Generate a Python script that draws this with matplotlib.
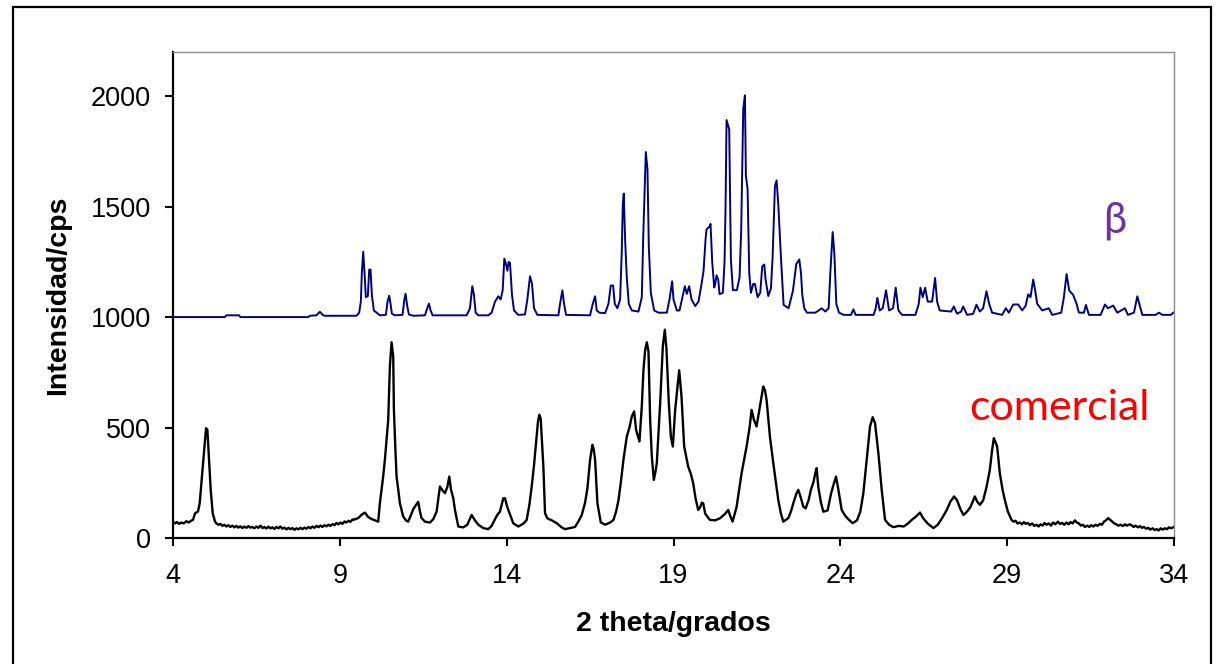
import matplotlib as mpl
mpl.use('Agg')
import matplotlib.pyplot as plt
from matplotlib.patches import Rectangle

# beta form, raw counts (drawn shifted up by beta_offset)
beta_offset = 1000
beta_x = [4.00, 5.55, 5.60, 5.98, 6.02, 8.05, 8.10, 8.30, 8.40, 8.50, 8.55, 9.50, 9.58, 9.63,
          9.66, 9.70, 9.74, 9.78, 9.84, 9.88, 9.92, 9.96, 10.02, 10.10, 10.20, 10.38, 10.43,
          10.48, 10.52, 10.56, 10.65, 10.88, 10.93, 10.97, 11.02, 11.07, 11.20, 11.55, 11.62,
          11.67, 11.72, 11.78, 12.80, 12.90, 12.97, 13.02, 13.07, 13.15, 13.45, 13.55, 13.65,
          13.75, 13.82, 13.88, 13.93, 13.98, 14.02, 14.06, 14.10, 14.16, 14.22, 14.35, 14.55,
          14.62, 14.70, 14.76, 14.82, 14.92, 15.55, 15.60, 15.67, 15.72, 15.78, 16.50, 16.58,
          16.65, 16.70, 16.78, 16.95, 17.05, 17.12, 17.19, 17.24, 17.32, 17.40, 17.45, 17.48,
          17.51, 17.55, 17.60, 17.66, 17.75, 17.95, 18.05, 18.09, 18.13, 18.17, 18.22, 18.26,
          18.32, 18.42, 18.55, 18.80, 18.88, 18.96, 19.00, 19.10, 19.18, 19.28, 19.34, 19.40,
          19.47, 19.54, 19.65, 19.75, 19.84, 19.90, 19.96, 19.99, 20.08, 20.11, 20.16, 20.22,
          20.25, 20.29, 20.34, 20.38, 20.48, 20.53, 20.56, 20.59, 20.67, 20.72, 20.78, 20.90,
          20.98, 21.03, 21.09, 21.14, 21.17, 21.22, 21.27, 21.32, 21.39, 21.44, 21.52, 21.60,
          21.66, 21.72, 21.76, 21.84, 21.92, 21.97, 22.04, 22.09, 22.14, 22.22, 22.30, 22.45,
          22.58, 22.68, 22.77, 22.82, 22.86, 22.92, 23.00, 23.25, 23.35, 23.44, 23.55, 23.65,
          23.70, 23.77, 23.82, 23.88, 23.96, 24.10, 24.32, 24.39, 24.46, 25.00, 25.06, 25.11,
          25.18, 25.27, 25.37, 25.46, 25.58, 25.66, 25.74, 25.85, 26.25, 26.35, 26.40, 26.47,
          26.54, 26.62, 26.75, 26.84, 26.90, 26.98, 27.32, 27.40, 27.50, 27.62, 27.68, 27.80,
          27.98, 28.08, 28.18, 28.28, 28.38, 28.46, 28.55, 28.70, 28.85, 28.96, 29.05, 29.18,
          29.33, 29.45, 29.55, 29.63, 29.70, 29.78, 29.84, 29.90, 30.05, 30.25, 30.35, 30.62,
          30.70, 30.78, 30.86, 30.98, 31.08, 31.15, 31.30, 31.36, 31.45, 31.80, 31.93, 32.02,
          32.18, 32.30, 32.53, 32.62, 32.80, 32.90, 32.98, 33.05, 33.45, 33.55, 33.65, 33.90,
          34.00]
beta_y = [0, 0, 8, 8, 0, 0, 6, 8, 24, 8, 6, 6, 20, 70,
          200, 296, 200, 90, 95, 215, 215, 100, 30, 20, 8, 10, 70,
          97, 60, 15, 8, 10, 75, 106, 50, 12, 6, 8, 40,
          61, 30, 8, 8, 40, 140, 100, 20, 8, 8, 20, 70,
          94, 80, 120, 265, 240, 210, 250, 245, 100, 30, 10, 12,
          80, 185, 150, 40, 10, 8, 60, 121, 60, 10, 8, 60,
          94, 30, 20, 18, 60, 143, 143, 60, 40, 80, 300, 509,
          559, 350, 180, 60, 30, 25, 90, 350, 550, 747, 669, 321,
          111, 30, 20, 20, 80, 162, 80, 30, 30, 100, 140, 105,
          140, 80, 50, 70, 150, 208, 350, 397, 410, 422, 250, 134,
          150, 189, 170, 104, 110, 250, 500, 892, 850, 260, 122, 122,
          180, 400, 941, 1004, 640, 580, 200, 110, 150, 150, 90, 110,
          230, 238, 170, 95, 130, 270, 593, 619, 511, 270, 55, 40,
          120, 240, 261, 200, 100, 40, 20, 20, 30, 40, 25, 40,
          200, 385, 290, 60, 20, 10, 10, 35, 10, 10, 40, 87,
          30, 40, 121, 30, 40, 133, 30, 10, 10, 60, 133, 90,
          133, 70, 70, 177, 70, 30, 25, 48, 15, 25, 48, 10,
          15, 56, 25, 40, 117, 60, 20, 15, 10, 40, 20, 57,
          57, 30, 50, 103, 90, 170, 120, 60, 30, 40, 10, 20,
          90, 195, 120, 100, 60, 20, 20, 55, 10, 10, 57, 40,
          52, 20, 40, 10, 20, 94, 50, 10, 10, 20, 10, 10,
          22]

# commercial sample, in four stretches of the scan
com_x_head = [4.00, 4.06, 4.12, 4.18, 4.25, 4.32, 4.40, 4.47, 4.54, 4.60, 4.66, 4.75, 4.80,
              4.86, 4.93, 4.99, 5.03, 5.07, 5.13, 5.19, 5.26]
com_y_head = [74, 66, 72, 64, 70, 66, 76, 70, 78, 82, 112, 120, 157,
              263, 384, 497, 490, 384, 218, 112, 74]

com_x_flat = [5.30, 5.36, 5.42, 5.48, 5.54, 5.60, 5.66, 5.72, 5.78, 5.84, 5.90, 5.96, 6.02,
              6.08, 6.14, 6.20, 6.26, 6.32, 6.38, 6.44, 6.50, 6.56, 6.62, 6.68, 6.74, 6.80,
              6.86, 6.92, 6.98, 7.04, 7.10, 7.16, 7.22, 7.28, 7.34, 7.40, 7.46, 7.52, 7.58,
              7.64, 7.70, 7.76, 7.82, 7.88, 7.94, 8.00, 8.06, 8.12, 8.18, 8.24, 8.30, 8.36,
              8.42, 8.48, 8.54, 8.60, 8.66, 8.72, 8.78, 8.84, 8.90, 8.96, 9.02, 9.08, 9.14,
              9.20, 9.26, 9.32, 9.38]
com_y_flat = [66, 60, 64, 55, 60, 52, 58, 50, 56, 48, 55, 47, 53,
              45, 52, 46, 54, 47, 50, 44, 52, 46, 56, 45, 50, 43,
              51, 44, 48, 41, 50, 44, 52, 42, 47, 39, 46, 40, 45,
              37, 44, 39, 46, 40, 47, 42, 50, 44, 52, 46, 55, 49,
              56, 50, 58, 53, 60, 55, 63, 58, 68, 62, 70, 64, 75,
              70, 78, 73, 84]

com_x_main = [9.40, 9.55, 9.65, 9.75, 9.85, 9.95, 10.05, 10.15, 10.20, 10.30, 10.35, 10.45,
              10.50, 10.55, 10.60, 10.62, 10.66, 10.70, 10.75, 10.80, 10.90, 10.98, 11.05,
              11.12, 11.20, 11.25, 11.35, 11.40, 11.45, 11.55, 11.70, 11.80, 11.90, 12.00,
              12.08, 12.15, 12.22, 12.28, 12.33, 12.40, 12.45, 12.55, 12.70, 12.82, 12.95,
              13.05, 13.15, 13.30, 13.45, 13.55, 13.70, 13.80, 13.90, 13.95, 14.00, 14.05,
              14.20, 14.35, 14.50, 14.60, 14.68, 14.75, 14.82, 14.88, 14.94, 14.98, 15.02,
              15.06, 15.10, 15.15, 15.22, 15.35, 15.50, 15.65, 15.75, 15.90, 16.05, 16.15,
              16.25, 16.35, 16.42, 16.50, 16.57, 16.61, 16.65, 16.72, 16.82, 16.95, 17.10,
              17.20, 17.28, 17.35, 17.42, 17.50, 17.60, 17.68, 17.75, 17.82, 17.88, 17.98,
              18.05, 18.10, 18.15, 18.20, 18.25, 18.30, 18.35, 18.41, 18.46, 18.50, 18.60,
              18.68, 18.74, 18.79, 18.86, 18.92, 18.98, 19.05, 19.12, 19.17, 19.24, 19.32,
              19.44, 19.52, 19.59, 19.66, 19.74, 19.80, 19.85, 19.89, 19.95, 20.09, 20.25,
              20.40, 20.55, 20.64, 20.70, 20.77, 20.89, 21.04, 21.19, 21.28, 21.34, 21.41,
              21.49, 21.55, 21.59, 21.69, 21.74, 21.79, 21.89, 21.99, 22.07, 22.14, 22.22,
              22.29, 22.44, 22.52, 22.59, 22.68, 22.74, 22.82, 22.89, 22.96, 23.05, 23.12,
              23.19, 23.26, 23.29, 23.34, 23.42, 23.49, 23.62, 23.72, 23.79, 23.87, 23.94,
              24.04, 24.15, 24.24, 24.37, 24.50, 24.60, 24.69, 24.79, 24.89, 24.97, 25.04,
              25.14, 25.24, 25.34, 25.46, 25.59, 25.75, 25.90, 26.02, 26.14, 26.25, 26.39,
              26.48, 26.62, 26.79, 26.92, 27.05, 27.19, 27.30, 27.41, 27.50, 27.60, 27.69,
              27.80, 27.90, 28.03, 28.10, 28.18, 28.28, 28.38, 28.48, 28.55, 28.60, 28.66,
              28.70, 28.78, 28.86, 28.93, 29.02]
com_y_main = [82, 90, 105, 115, 95, 86, 80, 74, 157, 280, 354, 535,
              777, 886, 822, 584, 420, 278, 220, 157, 97, 80, 74,
              100, 130, 142, 164, 120, 90, 74, 70, 85, 119, 233,
              215, 203, 230, 278, 220, 180, 127, 52, 48, 60, 104,
              80, 60, 45, 40, 55, 100, 120, 180, 180, 150, 127,
              66, 52, 65, 82, 150, 233, 330, 429, 530, 558, 540,
              430, 323, 112, 89, 80, 67, 48, 40, 45, 50, 75,
              104, 160, 225, 354, 422, 400, 354, 157, 71, 60, 70,
              82, 120, 170, 250, 354, 459, 500, 550, 573, 489, 437,
              596, 762, 850, 886, 845, 536, 370, 263, 300, 340, 610,
              868, 943, 853, 610, 460, 414, 580, 686, 759, 640, 414,
              323, 290, 248, 180, 127, 140, 160, 157, 110, 82, 80,
              90, 110, 127, 100, 74, 140, 293, 414, 500, 580, 535,
              505, 560, 596, 686, 670, 625, 459, 340, 250, 172, 110,
              74, 90, 120, 157, 200, 218, 180, 142, 134, 172, 220,
              250, 300, 316, 230, 160, 119, 125, 200, 238, 278, 220,
              127, 100, 85, 67, 80, 120, 203, 354, 505, 547, 520,
              384, 218, 82, 60, 49, 55, 52, 65, 82, 95, 115,
              90, 65, 45, 60, 90, 127, 165, 188, 170, 130, 104,
              120, 140, 188, 165, 150, 170, 230, 308, 400, 452, 430,
              414, 293, 220, 172, 120]

com_x_tail = [29.13, 29.19, 29.25, 29.31, 29.38, 29.44, 29.50, 29.56, 29.62, 29.68, 29.75,
              29.81, 29.88, 29.94, 30.00, 30.06, 30.12, 30.18, 30.25, 30.31, 30.38, 30.44,
              30.52, 30.58, 30.65, 30.71, 30.78, 30.84, 30.90, 30.96, 31.03, 31.09, 31.15,
              31.21, 31.27, 31.33, 31.40, 31.46, 31.52, 31.58, 31.65, 31.71, 31.78, 31.84,
              31.90, 31.96, 32.03, 32.09, 32.15, 32.21, 32.27, 32.33, 32.40, 32.46, 32.53,
              32.59, 32.66, 32.73, 32.79, 32.85, 32.92, 32.98, 33.04, 33.10, 33.17, 33.23,
              33.29, 33.36, 33.42, 33.48, 33.54, 33.60, 33.66, 33.73, 33.79, 33.85, 33.92,
              34.00]
com_y_tail = [82, 74, 78, 66, 70, 62, 72, 64, 68, 58, 66,
              55, 60, 52, 62, 56, 68, 60, 66, 56, 70, 62,
              74, 64, 68, 60, 70, 62, 72, 66, 80, 70, 66,
              56, 60, 50, 56, 50, 58, 52, 60, 55, 64, 60,
              74, 80, 90, 82, 74, 66, 62, 56, 60, 54, 62,
              56, 62, 58, 50, 56, 48, 54, 46, 50, 42, 46,
              38, 44, 36, 40, 34, 44, 38, 44, 40, 48, 44,
              50]

com_x = com_x_head + com_x_flat + com_x_main + com_x_tail
com_y = com_y_head + com_y_flat + com_y_main + com_y_tail

x_ticks = [4, 9, 14, 19, 24, 29, 34]
y_ticks = [0, 500, 1000, 1500, 2000]

plt.rcParams['font.family'] = ['Liberation Sans', 'DejaVu Sans']

fig = plt.figure(figsize=(12.16, 6.64), dpi=100)
ax = fig.add_axes([173 / 1216, 126 / 664, 1001 / 1216, 486 / 664])

ax.plot(beta_x, [v + beta_offset for v in beta_y], color='#000080', lw=1.4)
ax.plot(com_x, com_y, color='black', lw=1.7)

ax.set_xlim(4, 34)
ax.set_ylim(0, 2200)
ax.set_xticks(x_ticks)
ax.set_yticks(y_ticks)
ax.tick_params(axis='both', labelsize=19.5, direction='out', length=6, width=1.5)
ax.tick_params(axis='y', pad=10)
ax.tick_params(axis='x', pad=12)

for side in ['left', 'bottom']:
    ax.spines[side].set_linewidth(1.6)
    ax.spines[side].set_color('black')
for side in ['top', 'right']:
    ax.spines[side].set_linewidth(1.0)
    ax.spines[side].set_color('#8c8c8c')

ax.set_xlabel('2 theta/grados', fontsize=20.5, fontweight='bold', labelpad=16)
ax.set_ylabel('Intensidad/cps', fontsize=20.5, fontweight='bold', labelpad=14)

ax.text(32.23, 1382, 'β', color='#7030A0', fontsize=30,
        family=['Lato', 'DejaVu Sans'], ha='center', va='baseline')
ax.text(30.58, 535, 'comercial', color='red', fontsize=31,
        family=['Lato', 'DejaVu Sans'], ha='center', va='baseline')

# frame around the whole chart
fig.patches.append(Rectangle((13 / 1216, -0.05), 1198 / 1216, 1.05 - 7 / 664,
                             transform=fig.transFigure, fill=False,
                             edgecolor='black', lw=1.6))

fig.savefig('out.png', dpi=100)
